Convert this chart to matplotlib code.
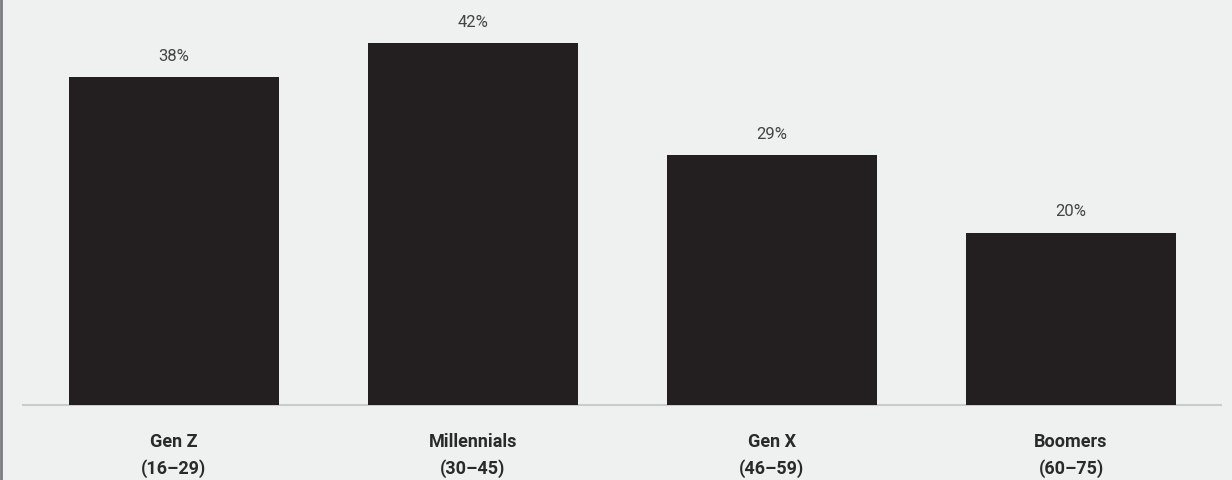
import matplotlib
matplotlib.use("Agg")
import matplotlib.pyplot as plt
from matplotlib.lines import Line2D

# survey share by generation
generations = ["Gen Z", "Millennials", "Gen X", "Boomers"]
age_ranges = ["(16–29)", "(30–45)", "(46–59)", "(60–75)"]
shares = [38, 42, 29, 20]

plt.rcParams["font.family"] = ["Liberation Sans Narrow", "Roboto", "DejaVu Sans"]

bg = "#eef1f0"
bar_color = "#231f20"

fig = plt.figure(figsize=(12.32, 4.8), dpi=100, facecolor=bg)
# axes spans from the baseline (75 px above the bottom) to the top edge
ax = fig.add_axes([0, 75 / 480, 1, 405 / 480])
ax.set_facecolor(bg)

x = list(range(len(shares)))
ax.bar(x, shares, width=0.70, color=bar_color, zorder=3)

ax.set_xlim(-174 / 299, (1232 - 174) / 299)
ax.set_ylim(0, 405 / 8.62)

for xi, v in zip(x, shares):
    ax.annotate(f"{v}%", (xi, v), xytext=(0, 15), textcoords="offset points",
                ha="center", va="center", fontsize=12, color="#444444")

for xi, g, r in zip(x, generations, age_ranges):
    ax.annotate(f"{g}\n{r}", (xi, 0), xytext=(0, -20.5), textcoords="offset points",
                ha="center", va="top", fontsize=13, fontweight="bold",
                color="#2a2a2a", linespacing=1.5, annotation_clip=False)

# light baseline under the bars
ax.plot([-0.508, 3.505], [0, 0], color="#c9cccb", lw=1.5, zorder=2,
        clip_on=False, solid_capstyle="butt")

for s in ax.spines.values():
    s.set_visible(False)
ax.set_xticks([])
ax.set_yticks([])

# thin rule on the left edge of the figure
fig.add_artist(Line2D([0.001, 0.001], [0, 1], transform=fig.transFigure,
                      color="#7a7d80", lw=2))

fig.savefig("out.png", dpi=100, facecolor=bg)
